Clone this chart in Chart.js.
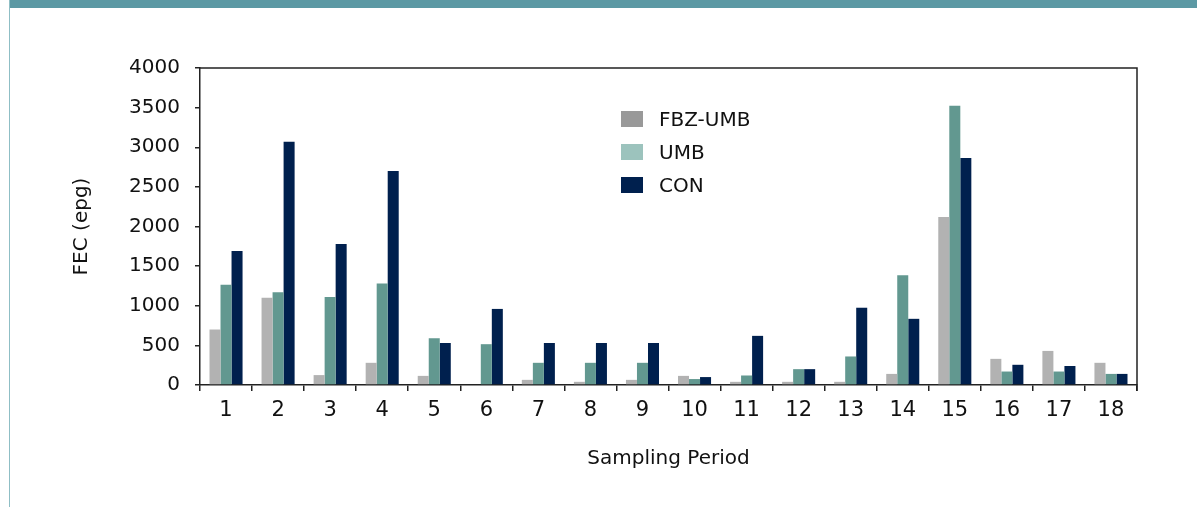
<!DOCTYPE html>
<html>
<head>
<meta charset="utf-8">
<script src="https://cdn.jsdelivr.net/npm/chart.js@4/dist/chart.umd.min.js"></script>
<style>
  body { margin: 0; background: #fff; }
  #wrap { position: relative; width: 1197px; height: 507px; overflow: hidden; }
  #topband { position: absolute; left: 9px; top: 0; width: 1188px; height: 8px; background: #5c99a4; }
  #leftline { position: absolute; left: 9px; top: 0; width: 1px; height: 507px; background: #8fbec5; }
  #canvas_div { position: absolute; left: 0; top: 0; width: 1197px; height: 507px; }
  #legend { position: absolute; left: 621px; top: 102px; font-family: "DejaVu Sans"; font-size: 20px; color: #111; }
  .row { height: 33px; display: flex; align-items: center; }
  .box { width: 22px; height: 16px; margin-right: 16px; }
</style>
</head>
<body>
<div id="wrap">
  <div id="canvas_div"><canvas id="myChart"></canvas></div>
  <div id="topband"></div>
  <div id="leftline"></div>
  <div id="legend"></div>
</div>
<script>
const periods = ["1","2","3","4","5","6","7","8","9","10","11","12","13","14","15","16","17","18"];
const fbzUmb = [700,1100,125,280,115,0,65,40,65,115,40,40,40,140,2120,330,430,280];
const umb = [1265,1170,1110,1280,590,515,280,280,280,75,120,200,360,1385,3525,170,170,140];
const con = [1690,3070,1780,2700,530,960,530,530,530,100,620,200,975,835,2865,255,240,140];
const yTicks = [0,500,1000,1500,2000,2500,3000,3500,4000];

const seriesNames = ["FBZ-UMB", "UMB", "CON"];
const barColors = ["#b2b2b2", "#629890", "#00204e"];
const legendColors = ["#999999", "#9cc3bd", "#00204e"];

// legend as html, sits inside the plot
const legend = document.getElementById("legend");
seriesNames.forEach((name, i) => {
  const row = document.createElement("div");
  row.className = "row";
  row.innerHTML = `<div class="box" style="background:${legendColors[i]}"></div><span>${name}</span>`;
  legend.appendChild(row);
});

const frame = {
  id: "frame",
  afterDraw(chart) {
    const { ctx, chartArea: a } = chart;
    ctx.save();
    ctx.strokeStyle = "#222";
    ctx.lineWidth = 1.5;
    ctx.beginPath();
    ctx.moveTo(a.left, a.top);
    ctx.lineTo(a.right, a.top);
    ctx.lineTo(a.right, a.bottom + 6);
    ctx.stroke();
    ctx.restore();
  }
};

const font = { family: "DejaVu Sans", size: 20 };

const config = {
  type: "bar",
  data: {
    labels: periods,
    datasets: [
      { label: seriesNames[0], data: fbzUmb, backgroundColor: barColors[0] },
      { label: seriesNames[1], data: umb, backgroundColor: barColors[1] },
      { label: seriesNames[2], data: con, backgroundColor: barColors[2] }
    ]
  },
  options: {
    responsive: true,
    maintainAspectRatio: false,
    animation: false,
    categoryPercentage: 0.635,
    barPercentage: 1.0,
    layout: { padding: { top: 68, right: 60, left: 0, bottom: 0 } },
    plugins: { legend: { display: false }, tooltip: { enabled: false } },
    scales: {
      x: {
        afterFit: (s) => { s.height = 122; },
        grid: { offset: true, drawOnChartArea: false, tickLength: 6, color: "#222", lineWidth: 1.5 },
        border: { color: "#222", width: 1.5 },
        ticks: { color: "#111", font: { family: "DejaVu Sans", size: 21 }, padding: 7, maxRotation: 0 },
        title: { display: true, text: "Sampling Period", color: "#111", font: font, padding: { top: 0, bottom: 36 } }
      },
      y: {
        min: 0,
        max: 4000,
        afterFit: (s) => { s.width = 200; },
        afterBuildTicks: (s) => { s.ticks = yTicks.map((v) => ({ value: v })); },
        grid: { drawOnChartArea: false, tickLength: 5, color: "#222", lineWidth: 1.5 },
        border: { color: "#222", width: 1.5 },
        ticks: { color: "#111", font: font, padding: 15, callback: (v) => String(v) },
        title: { display: true, text: "FEC (epg)", color: "#111", font: font, padding: { top: 70, bottom: 0 } }
      }
    }
  },
  plugins: [frame]
};

window.onload = () => {
  new Chart(document.getElementById("myChart"), config);
};
</script>
</body>
</html>
